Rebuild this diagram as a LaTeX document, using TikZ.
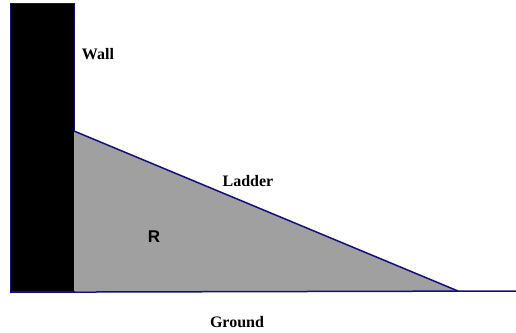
\documentclass[tikz,border=0pt]{standalone}
\usepackage{fontspec}
\setmainfont{Liberation Serif}
\setsansfont{Liberation Sans}
\usetikzlibrary{positioning}
\definecolor{edgeblue}{HTML}{101080}
\definecolor{regiongray}{HTML}{A0A0A0}
\tikzset{
  wallbox/.style={draw=edgeblue, line width=1.2pt, fill=black, inner sep=0pt, minimum width=64pt, minimum height=288pt},
  lad/.style={draw=edgeblue, line width=1.5pt},
  gnd/.style={draw=edgeblue, line width=1.5pt},
  lbl/.style={font=\fontsize{16}{19}\selectfont\bfseries, inner sep=0pt},
  rlbl/.style={font=\sffamily\fontsize{17}{20}\selectfont\bfseries, inner sep=0pt},
}
\begin{document}
\begin{tikzpicture}[x=1pt,y=-1pt]
\useasboundingbox (0,0) rectangle (516,332);
\node[wallbox, anchor=north west] (wall) at (10,3) {};
\coordinate (top) at (74,131);
\coordinate (corner) at (74,291);
\coordinate (foot) at (458,291);
\coordinate (gend) at (516,291);
\fill[regiongray] (top) -- (corner) -- (foot) -- cycle;
\draw[lad] (top) -- (foot);
\draw[gnd] (wall.south west) -- (gend);
\node[lbl] (wlab) at (98,54) {Wall};
\node[lbl] (llab) at (248,181) {Ladder};
\node[rlbl] (rlab) at (154,237) {R};
\node[lbl] (glab) at (237,322) {Ground};
\end{tikzpicture}
\end{document}
